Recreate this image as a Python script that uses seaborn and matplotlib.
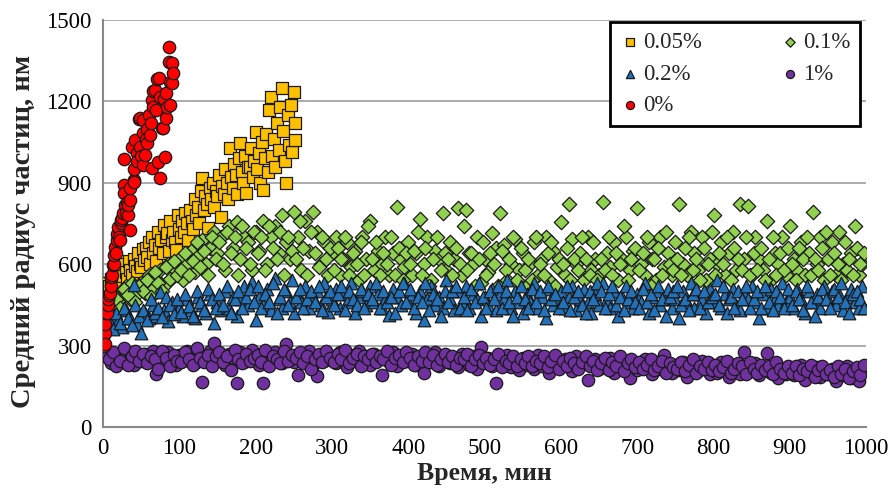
import numpy as np
import pandas as pd
import seaborn as sns
import matplotlib.pyplot as plt

# 0% - red circles
time_0 = [1, 2, 2, 3, 4, 5, 6, 7, 8, 9, 10, 11, 12, 13, 14, 15, 16, 17, 18, 18,
          20, 21, 22, 23, 24, 25, 26, 27, 27, 28, 29, 30, 31, 33, 33, 35, 35, 36, 38, 40,
          40, 41, 42, 44, 45, 47, 48, 49, 50, 52, 53, 53, 55, 56, 57, 58, 60, 62, 63, 64,
          64, 65, 66, 68, 70, 71, 72, 73, 75, 75, 77, 78, 80, 81, 82, 83, 84, 86, 87, 88,
          88, 90, 91, 92]
radius_0 = [300, 345, 306, 380, 419, 420, 450, 470, 486, 494, 520, 554, 560, 597, 600, 634, 664, 640, 689, 713,
            738, 700, 689, 750, 763, 770, 790, 986, 892, 861, 818, 788, 830, 781, 818, 837, 726, 880, 1033, 910,
            904, 950, 1058, 1009, 980, 1135, 1033, 1138, 1000, 1082, 966, 1132, 1002, 1060, 1046, 1100, 1150, 1076, 1119, 953,
            1205, 1240, 1180, 1242, 1168, 1283, 978, 1285, 917, 1217, 1101, 1103, 1210, 996, 1230, 1138, 1181, 1347, 1400, 1187,
            1273, 1343, 1269, 1303]

# 0.05% - yellow squares
time_005 = [0, 2, 4, 6, 8, 10, 12, 14, 16, 18, 20, 22, 24, 26, 28, 30, 32, 34, 36, 38,
            40, 42, 44, 46, 48, 50, 52, 54, 56, 58, 60, 62, 64, 66, 68, 70, 72, 74, 76, 78,
            80, 82, 84, 86, 88, 90, 92, 94, 96, 98, 100, 102, 104, 106, 108, 110, 112, 114, 116, 118,
            120, 122, 124, 126, 128, 130, 132, 134, 136, 138, 140, 142, 144, 146, 148, 150, 152, 154, 156, 158,
            160, 162, 164, 166, 168, 170, 172, 174, 176, 178, 180, 182, 184, 186, 188, 190, 192, 194, 196, 198,
            200, 202, 204, 206, 208, 210, 212, 214, 216, 218, 220, 222, 224, 226, 228, 230, 232, 234, 236, 238,
            240, 242, 244, 246, 248, 250, 251, 252]
radius_005 = [511, 490, 530, 470, 520, 545, 500, 560, 525, 575, 540, 530, 590, 555, 600, 570, 545, 610, 580, 560,
              620, 595, 575, 640, 600, 590, 655, 615, 659, 625, 680, 600, 700, 640, 670, 610, 720, 660, 690, 640,
              745, 700, 714, 650, 760, 690, 720, 680, 652, 780, 730, 700, 760, 720, 788, 750, 690, 800, 760, 730,
              840, 780, 810, 750, 870, 917, 800, 850, 820, 732, 880, 840, 900, 810, 870, 850, 930, 775, 890, 860,
              950, 900, 840, 1027, 920, 880, 970, 930, 860, 990, 1046, 940, 900, 1000, 861, 960, 959, 1030, 920, 980,
              1088, 950, 1010, 900, 1050, 873, 990, 1080, 940, 1168, 1217, 1000, 1060, 959, 1119, 1020, 1180, 1248, 1090, 980,
              898, 1150, 1040, 1187, 1015, 1236, 1119, 1058]

# long runs: two interleaved readings every 5 min
time_long_a = list(np.arange(0, 1000, 5.0))
time_long_b = list(np.arange(2.5, 1000, 5.0))

# 0.1% - green diamonds
radius_01_a = [430, 470, 445, 500, 460, 480, 520, 470, 505, 490,
               530, 495, 560, 510, 545, 580, 520, 600, 550, 575,
               620, 540, 600, 650, 570, 630, 690, 600, 660, 720,
               640, 700, 580, 740, 660, 757, 620, 700, 680, 579,
               720, 650, 760, 600, 700, 740, 640, 780, 680, 620,
               793, 700, 580, 760, 650, 793, 720, 600, 680, 560,
               640, 700, 560, 620, 680, 590, 650, 540, 700, 620,
               760, 580, 650, 600, 700, 560, 640, 812, 620, 590,
               680, 560, 640, 765, 600, 700, 540, 650, 620, 787,
               580, 680, 620, 806, 560, 798, 640, 600, 700, 530,
               620, 570, 716, 660, 787, 671, 540, 600, 692, 580,
               640, 520, 600, 680, 560, 620, 700, 540, 650, 590,
               757, 560, 822, 692, 600, 640, 540, 700, 580, 620,
               560, 830, 640, 590, 680, 540, 620, 700, 580, 650,
               806, 600, 560, 680, 620, 540, 700, 590, 640, 560,
               680, 822, 600, 560, 720, 640, 580, 700, 540, 620,
               781, 600, 680, 560, 640, 720, 580, 822, 620, 815,
               560, 700, 620, 580, 760, 540, 640, 600, 700, 560,
               740, 620, 580, 680, 560, 640, 791, 600, 700, 540,
               620, 680, 560, 720, 600, 580, 640, 740, 560, 600]
radius_01_b = [410, 455, 490, 470, 440, 510, 485, 530, 460, 520,
               500, 540, 480, 570, 530, 500, 590, 545, 610, 560,
               580, 640, 560, 610, 680, 590, 650, 560, 700, 620,
               680, 600, 720, 640, 700, 560, 740, 660, 600, 720,
               640, 700, 580, 740, 660, 620, 720, 560, 700, 650,
               620, 760, 660, 560, 720, 640, 590, 700, 620, 660,
               580, 660, 620, 700, 560, 640, 600, 680, 560, 740,
               620, 680, 560, 640, 600, 700, 560, 660, 540, 640,
               600, 650, 720, 560, 660, 520, 620, 700, 580, 640,
               620, 560, 660, 600, 740, 580, 640, 520, 620, 680,
               560, 640, 600, 520, 650, 580, 620, 700, 540, 660,
               580, 620, 540, 700, 600, 560, 640, 680, 520, 620,
               600, 660, 540, 620, 580, 700, 620, 560, 680, 540,
               620, 580, 700, 560, 640, 600, 740, 540, 620, 660,
               580, 640, 700, 520, 620, 660, 560, 720, 600, 580,
               620, 560, 660, 700, 580, 620, 540, 660, 600, 720,
               560, 640, 600, 700, 540, 660, 620, 580, 700, 560,
               640, 580, 660, 540, 620, 700, 560, 640, 580, 660,
               600, 540, 660, 620, 700, 560, 620, 580, 660, 720,
               560, 640, 600, 540, 680, 620, 560, 660, 600, 640]

# 0.2% - blue triangles
radius_02_a = [350, 380, 365, 410, 390, 370, 430, 400, 523, 380,
               345, 420, 400, 450, 410, 499, 430, 390, 460, 420,
               440, 410, 470, 430, 400, 480, 450, 420, 490, 382,
               460, 430, 500, 440, 480, 410, 470, 520, 450, 536,
               394, 480, 450, 510, 430, 548, 470, 440, 500, 460,
               420, 490, 460, 520, 440, 480, 500, 450, 530, 425,
               470, 510, 440, 490, 460, 530, 420, 480, 500, 450,
               520, 460, 490, 440, 470, 413, 510, 480, 450, 530,
               460, 490, 420, 500, 394, 470, 520, 450, 480, 440,
               542, 470, 430, 500, 460, 520, 440, 490, 470, 410,
               480, 450, 510, 430, 490, 470, 542, 440, 500, 460,
               420, 490, 460, 530, 440, 480, 400, 510, 450, 470,
               500, 440, 480, 520, 430, 470, 510, 460, 420, 490,
               450, 530, 470, 440, 500, 410, 480, 520, 460, 440,
               490, 460, 530, 420, 480, 500, 450, 470, 510, 440,
               470, 400, 500, 460, 530, 440, 490, 470, 420, 510,
               460, 540, 440, 490, 470, 510, 450, 430, 500, 470,
               520, 460, 400, 490, 440, 510, 470, 450, 530, 460,
               480, 440, 510, 470, 420, 500, 460, 490, 440, 520,
               470, 500, 450, 490, 430, 480, 510, 460, 440, 520]
radius_02_b = [370, 395, 360, 420, 385, 440, 400, 375, 450, 410,
               430, 395, 470, 420, 440, 405, 480, 450, 415, 470,
               425, 490, 445, 410, 500, 460, 430, 510, 470, 440,
               490, 450, 520, 420, 470, 500, 440, 480, 510, 460,
               520, 440, 490, 460, 530, 420, 480, 510, 450, 540,
               480, 510, 440, 470, 500, 460, 520, 430, 480, 500,
               450, 490, 520, 430, 500, 470, 450, 510, 440, 490,
               470, 530, 440, 500, 460, 480, 420, 500, 530, 460,
               510, 440, 480, 460, 530, 430, 490, 470, 410, 500,
               460, 500, 520, 440, 480, 430, 510, 460, 530, 480,
               440, 500, 470, 520, 440, 500, 460, 410, 480, 520,
               470, 440, 510, 460, 500, 430, 520, 470, 490, 440,
               460, 520, 430, 480, 500, 450, 420, 500, 470, 530,
               500, 440, 490, 520, 450, 480, 430, 470, 500, 460,
               440, 510, 460, 490, 430, 520, 470, 410, 480, 500,
               520, 450, 470, 430, 490, 510, 440, 500, 460, 480,
               490, 450, 520, 420, 480, 440, 500, 470, 520, 440,
               470, 500, 440, 520, 460, 430, 500, 480, 440, 510,
               450, 500, 470, 430, 520, 460, 410, 480, 510, 470,
               440, 510, 480, 530, 460, 420, 490, 500, 470, 440]

# 1% - purple circles
radius_1_a = [284, 270, 235, 255, 265, 240, 275, 250, 230, 268,
              245, 270, 255, 280, 195, 260, 240, 275, 250, 230,
              265, 245, 280, 255, 235, 270, 167, 250, 280, 311,
              245, 265, 230, 270, 255, 163, 275, 240, 260, 285,
              250, 230, 161, 270, 245, 275, 255, 235, 306, 260,
              240, 192, 270, 250, 280, 230, 188, 265, 245, 270,
              255, 235, 275, 245, 220, 265, 250, 280, 240, 260,
              230, 270, 250, 190, 260, 240, 275, 225, 255, 265,
              245, 270, 230, 255, 200, 260, 240, 275, 225, 250,
              265, 235, 255, 220, 270, 245, 230, 260, 215, 296,
              240, 255, 225, 163, 250, 230, 265, 220, 245, 210,
              255, 230, 240, 215, 265, 225, 250, 200, 240, 230,
              220, 250, 235, 205, 260, 225, 240, 175, 230, 250,
              215, 240, 225, 255, 200, 235, 220, 245, 180, 230,
              210, 235, 250, 220, 195, 240, 215, 265, 225, 200,
              230, 210, 240, 185, 220, 235, 205, 245, 215, 195,
              225, 200, 240, 210, 185, 230, 215, 195, 278, 220,
              205, 235, 190, 215, 274, 200, 225, 180, 210, 195,
              215, 190, 205, 230, 175, 210, 195, 220, 185, 205,
              195, 215, 170, 205, 190, 225, 180, 200, 170, 210]
radius_1_b = [260, 250, 275, 225, 245, 290, 230, 260, 280, 245,
              270, 235, 260, 250, 215, 280, 255, 225, 265, 245,
              240, 275, 250, 230, 290, 255, 240, 265, 225, 260,
              275, 240, 260, 210, 285, 250, 235, 270, 245, 255,
              265, 240, 285, 225, 260, 250, 235, 280, 245, 265,
              255, 275, 235, 260, 215, 250, 270, 240, 280, 255,
              240, 270, 250, 285, 235, 255, 270, 225, 260, 250,
              270, 240, 260, 250, 280, 230, 255, 265, 240, 275,
              255, 230, 260, 245, 275, 240, 265, 230, 250, 270,
              240, 260, 230, 255, 250, 270, 225, 250, 265, 235,
              255, 230, 250, 270, 220, 245, 235, 260, 225, 250,
              235, 260, 225, 245, 235, 260, 220, 245, 265, 215,
              245, 225, 255, 235, 215, 240, 260, 225, 245, 210,
              235, 255, 210, 240, 225, 260, 205, 235, 250, 220,
              240, 215, 230, 250, 210, 225, 245, 200, 235, 220,
              215, 240, 205, 230, 250, 200, 225, 215, 240, 210,
              230, 205, 220, 245, 200, 215, 235, 225, 195, 240,
              215, 200, 230, 210, 225, 195, 240, 215, 200, 225,
              200, 225, 190, 215, 205, 230, 185, 210, 225, 195,
              210, 185, 225, 195, 215, 180, 205, 220, 190, 230]

x_ticks = [0, 100, 200, 300, 400, 500, 600, 700, 800, 900, 1000]
y_ticks = [0, 300, 600, 900, 1200, 1500]

sns.set_style('white')
plt.rcParams['font.family'] = ['Liberation Serif', 'DejaVu Serif']

fig, ax = plt.subplots(figsize=(8.92, 4.95), dpi=100)
fig.subplots_adjust(left=0.1155, right=0.971, bottom=0.1374, top=0.9596)

series = [
    ('0.05%', time_005, radius_005, 's', '#FFC000', 84),
    ('0.1%', time_long_a + time_long_b, radius_01_a + radius_01_b, 'D', '#92D050', 54),
    ('0.2%', time_long_a + time_long_b, radius_02_a + radius_02_b, '^', '#2372B9', 82),
    ('1%', time_long_a + time_long_b, radius_1_a + radius_1_b, 'o', '#7030A0', 80),
    ('0%', time_0, radius_0, 'o', '#FF0000', 80),
]
for name, t, r, mk, col, size in series:
    sns.scatterplot(x=t, y=r, ax=ax, marker=mk, color=col, s=size,
                    edgecolor='#1a1a1a', linewidth=0.9, label=name, zorder=3)

ax.set_xlim(0, 1000)
ax.set_ylim(0, 1500)
ax.set_xticks(x_ticks)
ax.set_yticks(y_ticks)
ax.yaxis.grid(True, color='#a6a6a6', linewidth=1.3)
ax.xaxis.grid(False)
ax.set_axisbelow(True)
for side in ['top', 'right']:
    ax.spines[side].set_visible(False)
for side in ['left', 'bottom']:
    ax.spines[side].set_color('#888888')
    ax.spines[side].set_linewidth(1.5)
ax.tick_params(axis='both', direction='out', length=5, width=1.3, color='#888888',
               labelsize=16.5, labelcolor='black', pad=3)

ax.set_xlabel('Время, мин', fontsize=18.5, fontweight='bold')
ax.set_ylabel('Средний радиус частиц, нм', fontsize=20.5, fontweight='bold')
ax.xaxis.set_label_coords(0.5, -0.086)
ax.yaxis.set_label_coords(-0.088, 0.48)

handles, labels = ax.get_legend_handles_labels()
order = [0, 2, 4, 1, 3]
leg = ax.legend([handles[i] for i in order], [labels[i] for i in order],
                ncol=2, loc='upper left', bbox_to_anchor=(0.664, 0.995), borderaxespad=0,
                fontsize=16.5, frameon=True, fancybox=False, edgecolor='black',
                framealpha=1, markerscale=0.65, handletextpad=0.1, handlelength=0.9,
                columnspacing=3.4, labelspacing=0.45, borderpad=0.45)
leg.get_frame().set_linewidth(2)

plt.savefig('out.png', dpi=100)
